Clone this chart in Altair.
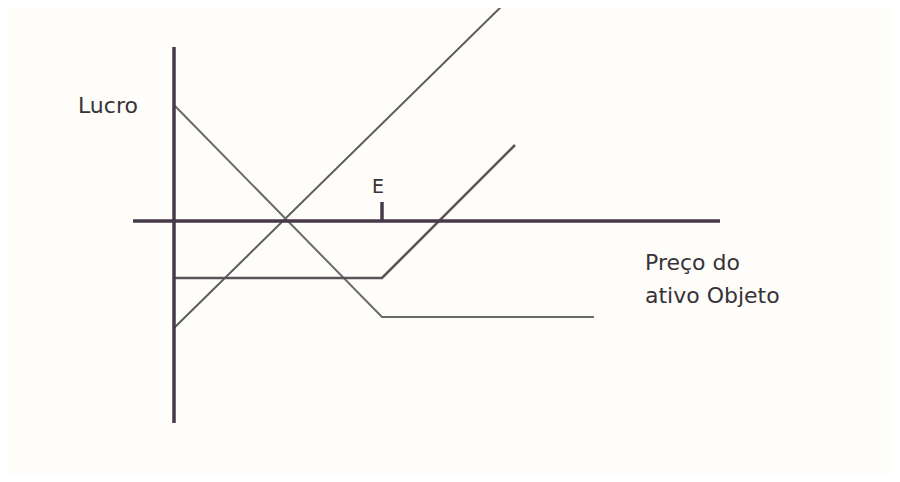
import altair as alt
import pandas as pd

# Payoff diagram values (price units on x, profit units on y)
stock_price = [0, 167]
stock_profit = [-53.5, 110.5]

put_price = [0, 104, 210]
put_profit = [58, -48, -48]

call_price = [0, 104, 170.5]
call_profit = [-28.5, -28.5, 38]

strike = 104
tick_len = 9.5

h_axis = [-20.5, 273]
v_axis = [87, -101]

labels = ["Lucro", "Preço do", "ativo Objeto"]
label_x = [-48, 235.5, 235.5]
label_y = [54, -24.5, -41]

X = alt.Scale(domain=[-83, 359])
Y = alt.Scale(domain=[-126.5, 106.5])

def line_df(xs, ys):
    return pd.DataFrame({"x": xs, "y": ys, "o": list(range(len(xs)))})

stock = alt.Chart(line_df(stock_price, stock_profit)).mark_line(
    color="#5c5c5c", strokeWidth=2, clip=True
).encode(x=alt.X("x:Q", scale=X, axis=None), y=alt.Y("y:Q", scale=Y, axis=None), order="o:O")

put = alt.Chart(line_df(put_price, put_profit)).mark_line(
    color="#6a6a6a", strokeWidth=2
).encode(x=alt.X("x:Q", scale=X, axis=None), y=alt.Y("y:Q", scale=Y, axis=None), order="o:O")

call = alt.Chart(line_df(call_price, call_profit)).mark_line(
    color="#5a5458", strokeWidth=2.6
).encode(x=alt.X("x:Q", scale=X, axis=None), y=alt.Y("y:Q", scale=Y, axis=None), order="o:O")

axes_df = pd.DataFrame({
    "x": [h_axis[0], 0, strike],
    "x2": [h_axis[1], 0, strike],
    "y": [0, v_axis[0], 0],
    "y2": [0, v_axis[1], tick_len],
})
axes = alt.Chart(axes_df).mark_rule(color="#45394a", strokeWidth=3.5).encode(
    x=alt.X("x:Q", scale=X, axis=None), x2="x2:Q",
    y=alt.Y("y:Q", scale=Y, axis=None), y2="y2:Q",
)

lab_df = pd.DataFrame({"t": labels, "x": label_x, "y": label_y})
text = alt.Chart(lab_df).mark_text(
    align="left", baseline="alphabetic", fontSize=22, font="DejaVu Sans", color="#363338"
).encode(x=alt.X("x:Q", scale=X, axis=None), y=alt.Y("y:Q", scale=Y, axis=None), text="t:N")

e_df = pd.DataFrame({"t": ["E"], "x": [strike - 2], "y": [14]})
etext = alt.Chart(e_df).mark_text(
    align="center", baseline="alphabetic", fontSize=19, font="DejaVu Sans", color="#363338"
).encode(x=alt.X("x:Q", scale=X, axis=None), y=alt.Y("y:Q", scale=Y, axis=None), text="t:N")

chart = alt.layer(stock, put, call, axes, text, etext).properties(
    width=884, height=466, padding=0,
    autosize=alt.AutoSizeParams(type="none"),
    background="#fefdf9",
).configure_view(stroke=None)

chart.save("out.html", embed_options={"renderer": "svg", "actions": False})
